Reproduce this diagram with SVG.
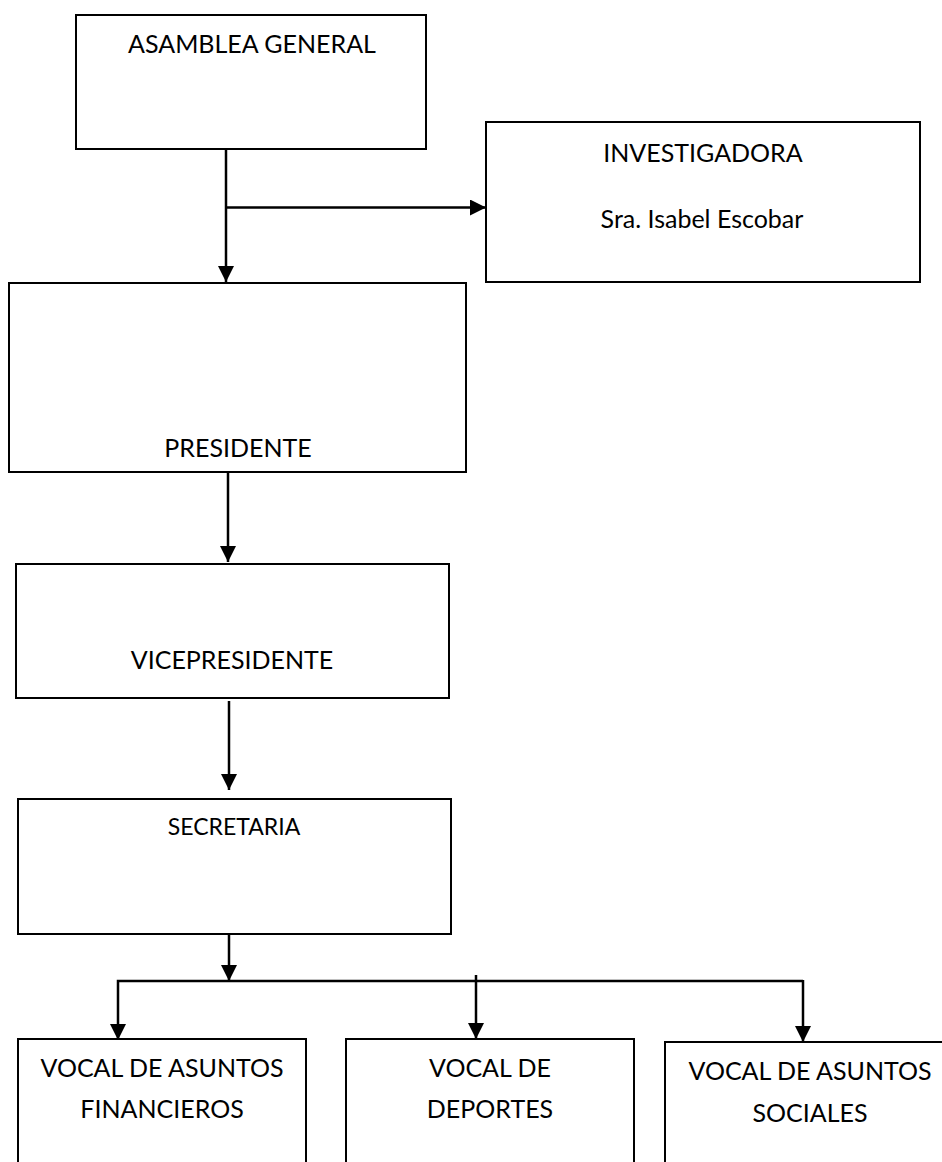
<svg xmlns="http://www.w3.org/2000/svg" width="942" height="1162" viewBox="0 0 942 1162">
  <style>
    .box { fill: #ffffff; stroke: #000000; stroke-width: 2; }
    .lbl { font-family: Lato, "Open Sans", "Liberation Sans", sans-serif; font-size: 25px; fill: #000000; text-anchor: middle; }
    .sm { font-size: 23px; }
    .wire { fill: none; stroke: #000000; stroke-width: 2.5; }
  </style>
  <defs>
    <marker id="arrow" viewBox="0 0 16 16" refX="16" refY="8" markerWidth="16" markerHeight="16" markerUnits="userSpaceOnUse" orient="auto">
      <path d="M0,0 L16,8 L0,16 Z" fill="#000000"/>
    </marker>
  </defs>

  <rect width="942" height="1162" fill="#ffffff"/>

  <!-- org chart boxes -->
  <g id="asamblea">
    <rect class="box" x="76" y="15" width="350" height="134"/>
    <text class="lbl" x="252" y="53">ASAMBLEA GENERAL</text>
  </g>

  <g id="investigadora">
    <rect class="box" x="486" y="122" width="434" height="160"/>
    <text class="lbl" x="703" y="162">INVESTIGADORA</text>
    <text class="lbl" x="702" y="228">Sra. Isabel Escobar</text>
  </g>

  <g id="presidente">
    <rect class="box" x="9" y="283" width="457" height="189"/>
    <text class="lbl" x="238" y="457">PRESIDENTE</text>
  </g>

  <g id="vicepresidente">
    <rect class="box" x="16" y="564" width="433" height="134"/>
    <text class="lbl" x="232" y="669">VICEPRESIDENTE</text>
  </g>

  <g id="secretaria">
    <rect class="box" x="18" y="799" width="433" height="135"/>
    <text class="lbl sm" x="234" y="835">SECRETARIA</text>
  </g>

  <g id="vocal-financieros">
    <rect class="box" x="18" y="1039" width="288" height="140"/>
    <text class="lbl" x="162" y="1077">VOCAL DE ASUNTOS</text>
    <text class="lbl" x="162" y="1118">FINANCIEROS</text>
  </g>

  <g id="vocal-deportes">
    <rect class="box" x="346" y="1039" width="288" height="140"/>
    <text class="lbl" x="490" y="1077">VOCAL DE</text>
    <text class="lbl" x="490" y="1118">DEPORTES</text>
  </g>

  <g id="vocal-sociales">
    <rect class="box" x="665" y="1042" width="300" height="140"/>
    <text class="lbl" x="810" y="1080">VOCAL DE ASUNTOS</text>
    <text class="lbl" x="810" y="1122">SOCIALES</text>
  </g>

  <!-- connectors -->
  <g id="connectors">
    <path class="wire" d="M226,149 L226,282" marker-end="url(#arrow)"/>
    <path class="wire" d="M226,207.5 L486,207.5" marker-end="url(#arrow)"/>
    <path class="wire" d="M228,472 L228,562" marker-end="url(#arrow)"/>
    <path class="wire" d="M229,701 L229,790" marker-end="url(#arrow)"/>
    <path class="wire" d="M229,934 L229,981" marker-end="url(#arrow)"/>
    <path class="wire" d="M803,981 L118,981 L118,1040" marker-end="url(#arrow)"/>
    <path class="wire" d="M803,980 L803,1042" marker-end="url(#arrow)"/>
    <path class="wire" d="M476,975 L476,1039" marker-end="url(#arrow)"/>
  </g>
</svg>
